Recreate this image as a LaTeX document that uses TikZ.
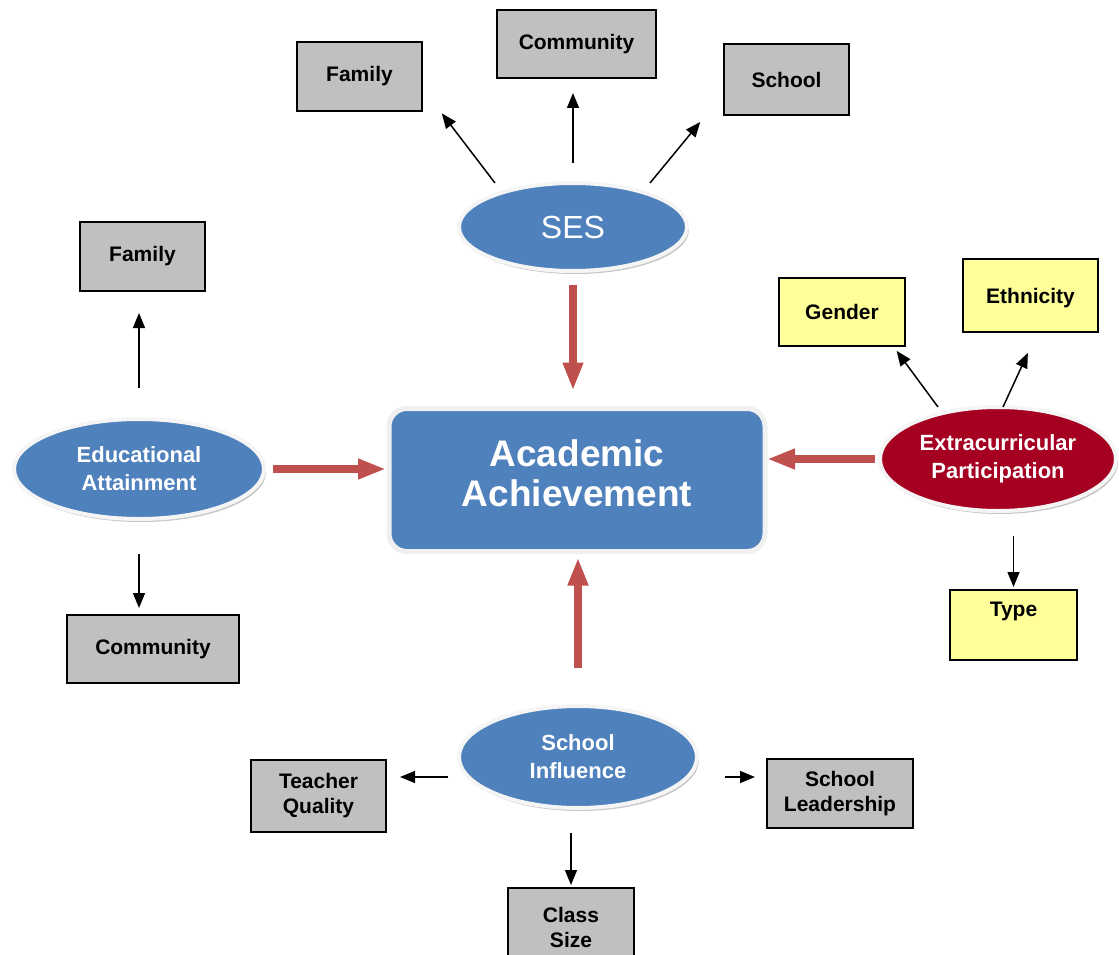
\documentclass[tikz,border=0pt]{standalone}
\usepackage{fontspec}
\setmainfont{Liberation Sans}
\usetikzlibrary{positioning, arrows.meta, shapes.geometric, shadows}

\definecolor{nodeblue}{HTML}{4F81BD}
\definecolor{nodered}{HTML}{A50021}
\definecolor{boxgray}{HTML}{C0C0C0}
\definecolor{boxyellow}{HTML}{FFFF99}
\definecolor{flowred}{HTML}{C0504D}

\begin{document}
\begin{tikzpicture}[
  x=1pt, y=-1pt,
  %% Node styles
  core/.style={
    draw=gray!12, line width=5pt, fill=nodeblue, rounded corners=18pt,
    text=white, font=\bfseries\fontsize{37}{40}\selectfont,
    align=center, inner sep=0pt, outer sep=0pt,
    minimum width=376pt, minimum height=143pt
  },
  factor/.style={
    ellipse, draw=gray!8, line width=4pt, fill=nodeblue,
    drop shadow={shadow xshift=2pt, shadow yshift=-3pt, opacity=0.45},
    text=white, font=\bfseries\fontsize{22}{28}\selectfont,
    align=center, inner sep=0pt, outer sep=0pt
  },
  item/.style={
    draw, line width=1.2pt, fill=boxgray,
    font=\bfseries\fontsize{21}{25}\selectfont,
    align=center, inner sep=0pt, outer sep=0pt
  },
  note/.style={item, fill=boxyellow},
  %% Connector styles
  link/.style={line width=1.5pt, -{Triangle[length=15pt, width=12pt]}},
  flow/.style={draw=flowred, line width=8pt, -{Triangle[length=28pt, width=19pt]}},
]
\useasboundingbox (0,0) rectangle (1119,955);

%% ── CENTRE ────────────────────────────────────────────────────────────────
\node[core, text depth=14pt] (ach) at (577,480) {Academic\\Achievement};

%% ── FACTORS ───────────────────────────────────────────────────────────────
\node[factor, minimum width=228pt, minimum height=88pt,
      font=\fontsize{32}{36}\selectfont] (ses) at (573,227) {SES};
\node[factor, minimum width=250pt, minimum height=100pt] (edu) at (139,469) {Educational\\Attainment};
\node[factor, fill=nodered, minimum width=236pt, minimum height=104pt] (ext) at (998,459) {Extracurricular\\Participation};
\node[factor, minimum width=238pt, minimum height=102pt] (sch) at (578,757) {School\\Influence};

%% Factor → centre
\draw[flow, shorten <=14pt, shorten >=18pt] (ses.south) -- (ses.south |- ach.north);
\draw[flow, shorten <=9pt, shorten >=3pt] (edu.east) -- (edu.east -| ach.west);
\draw[flow, shorten <=5pt, shorten >=2pt] (ext.west) -- (ext.west -| ach.east);
\draw[flow, shorten <=38pt, shorten >=6pt] (sch.north) -- (sch.north |- ach.south);

%% ── SES ───────────────────────────────────────────────────────────────────
\node[item, minimum width=125pt, minimum height=69pt] (sesfam) at (359.5,76.5) {Family};
\node[item, minimum width=159pt, minimum height=68pt] (sescom) at (576.5,44) {Community};
\node[item, minimum width=125pt, minimum height=71pt] (sesschool) at (786.5,79.5) {School};

\draw[link, shorten >=3pt] ([xshift=-78pt]ses.north) -- ([xshift=18pt]sesfam.south east);
\draw[link, shorten <=20pt, shorten >=15pt] (ses.north) -- (ses.north |- sescom.south);
\draw[link, shorten >=9pt] ([xshift=77pt]ses.north) -- ([xshift=-18pt]sesschool.south west);

%% ── EDUCATIONAL ATTAINMENT ────────────────────────────────────────────────
\node[item, minimum width=125pt, minimum height=69pt] (edufam) at (142.5,256.5) {Family};
\node[item, minimum width=172pt, minimum height=68pt] (educom) at (153,649) {Community};

\draw[link, shorten <=31pt, shorten >=22pt] (edu.north) -- (edu.north |- edufam.south);
\draw[link, shorten <=35pt, shorten >=7pt] (edu.south) -- (edu.south |- educom.north);

%% ── EXTRACURRICULAR PARTICIPATION ─────────────────────────────────────────
\node[note, minimum width=126pt, minimum height=68pt] (gender) at (842,312) {Gender};
\node[note, minimum width=135pt, minimum height=73pt, text depth=0pt] (ethnic) at (1030.5,295.5) {Ethnicity};
\node[note, minimum width=127pt, minimum height=70pt, text depth=31pt] (type) at (1013.5,625) {Type};

\draw[link, shorten >=6pt] ([xshift=-60pt]ext.north) -- ([xshift=-12pt]gender.south east);
\draw[link, shorten >=23pt] ([xshift=5pt]ext.north) -- ([xshift=7pt]ethnic.south);
\draw[link, shorten <=25pt, shorten >=3pt] (type.north |- ext.south) -- (type.north);

%% ── SCHOOL INFLUENCE ──────────────────────────────────────────────────────
\node[item, minimum width=135pt, minimum height=72pt] (teacher) at (318.5,796) {Teacher\\Quality};
\node[item, minimum width=146pt, minimum height=69pt] (leader) at (840,793.5) {School\\Leadership};
\node[item, minimum width=126pt, minimum height=78pt] (size) at (571,927) {Class\\Size};

\draw[link, shorten <=11pt, shorten >=14pt] ([yshift=-20pt]sch.west) -- ([yshift=-20pt]sch.west -| teacher.east);
\draw[link, shorten <=28pt, shorten >=12pt] ([yshift=-20pt]sch.east) -- ([yshift=-20pt]sch.east -| leader.west);
\draw[link, shorten <=25pt, shorten >=3pt] (size.north |- sch.south) -- (size.north);

\end{tikzpicture}
\end{document}
